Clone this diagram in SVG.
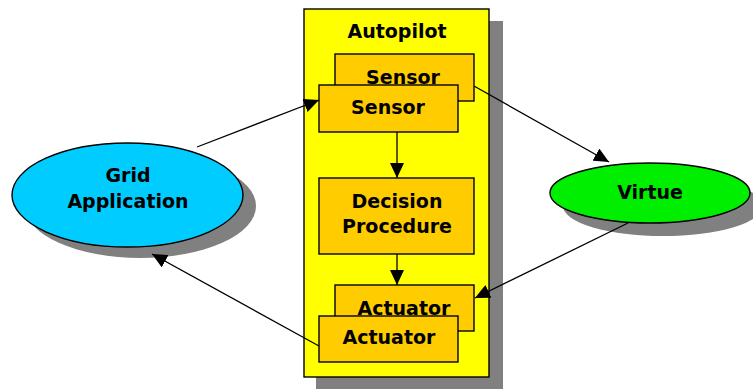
<svg xmlns="http://www.w3.org/2000/svg" width="753" height="390" viewBox="0 0 753 390">
<style>
.t{font-family:"DejaVu Sans",Verdana,sans-serif;font-weight:bold;font-size:19px;fill:#000;text-anchor:middle}
.box{fill:#FFCC00;stroke:#000;stroke-width:1.4}
.sh{fill:#808080}
.ln{stroke:#000;stroke-width:1.3;fill:none}
</style>
<defs>
<marker id="ah" markerUnits="userSpaceOnUse" markerWidth="16" markerHeight="14" refX="15" refY="7" orient="auto">
<path d="M0,0 L15,7 L0,14 z" fill="#000"/>
</marker>
</defs>
<rect width="753" height="390" fill="#fff"/>
<g id="autopilot">
<rect class="sh" x="316" y="21" width="187" height="368"/>
<rect x="304" y="9" width="185" height="368" fill="#FFFF00" stroke="#000" stroke-width="1.4"/>
<text class="t" x="397" y="38">Autopilot</text>
</g>
<g id="grid">
<ellipse class="sh" cx="140.5" cy="206" rx="115.5" ry="52"/>
<ellipse cx="127.5" cy="195" rx="115.5" ry="52" fill="#00CCFF" stroke="#000" stroke-width="1.4"/>
<text class="t" x="128" y="182">Grid</text>
<text class="t" x="128" y="208">Application</text>
</g>
<g id="virtue">
<ellipse class="sh" cx="663" cy="206" rx="100" ry="30"/>
<ellipse cx="650" cy="193" rx="100" ry="30" fill="#00EE00" stroke="#000" stroke-width="1.4"/>
<text class="t" x="650" y="199">Virtue</text>
</g>
<g id="sensor-back">
<rect class="box" x="335" y="54" width="139" height="47"/>
<text class="t" x="403" y="84">Sensor</text>
</g>
<g id="sensor-front">
<rect class="box" x="319" y="85" width="139" height="47"/>
<text class="t" x="388" y="114">Sensor</text>
</g>
<g id="decision">
<rect class="box" x="319" y="178" width="155" height="76"/>
<text class="t" x="397" y="208">Decision</text>
<text class="t" x="397" y="233">Procedure</text>
</g>
<g id="actuator-back">
<rect class="box" x="335" y="285" width="139" height="46"/>
<text class="t" x="404" y="315">Actuator</text>
</g>
<g id="actuator-front">
<rect class="box" x="319" y="316" width="139" height="46"/>
<text class="t" x="389" y="344">Actuator</text>
</g>
<g id="connectors">
<line class="ln" x1="197" y1="147" x2="319" y2="100" marker-end="url(#ah)"/>
<line class="ln" x1="397" y1="132" x2="397" y2="178" marker-end="url(#ah)"/>
<line class="ln" x1="397" y1="254" x2="397" y2="285" marker-end="url(#ah)"/>
<line class="ln" x1="474" y1="86" x2="609" y2="162" marker-end="url(#ah)"/>
<line class="ln" x1="628" y1="223" x2="475" y2="298" marker-end="url(#ah)"/>
<line class="ln" x1="319" y1="346" x2="152" y2="254" marker-end="url(#ah)"/>
</g>
</svg>
